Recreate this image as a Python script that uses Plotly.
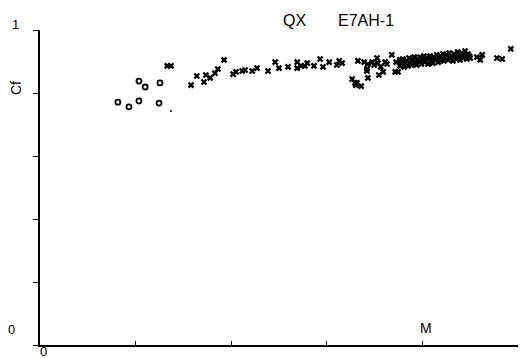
import plotly.graph_objects as go

# Skin-friction coefficient Cf against Mach number M, run E7AH-1
# Low-speed points plotted as circles
m_circle = [0.163, 0.186, 0.207, 0.249, 0.207, 0.220, 0.251]
cf_circle = [0.771, 0.756, 0.775, 0.768, 0.838, 0.819, 0.832]

# Isolated small dot
m_dot = [0.274]
cf_dot = [0.743]

# Main run plotted as crosses
m_cross = [
    0.266, 0.274, 0.316, 0.328, 0.343, 0.347, 0.356, 0.366, 0.372, 0.385,
    0.404, 0.410, 0.423, 0.429, 0.444, 0.454, 0.477, 0.492, 0.500, 0.519,
    0.538, 0.538, 0.546, 0.554, 0.559, 0.573, 0.586, 0.592, 0.605, 0.621,
    0.626, 0.632, 0.653, 0.659, 0.661, 0.663, 0.672, 0.665, 0.678, 0.686,
    0.684, 0.686, 0.684, 0.695, 0.699, 0.705, 0.707, 0.713, 0.718, 0.709,
    0.722, 0.726, 0.736, 0.745, 0.749, 0.743,
    0.753, 0.753, 0.755, 0.759, 0.762, 0.764, 0.768, 0.770, 0.772, 0.774,
    0.777, 0.780, 0.783, 0.785, 0.788, 0.791, 0.793, 0.795, 0.798, 0.801,
    0.803, 0.805, 0.809, 0.812, 0.814, 0.816, 0.820, 0.822, 0.824, 0.826,
    0.830, 0.833, 0.835, 0.837, 0.840, 0.843, 0.845, 0.847, 0.851, 0.854,
    0.856, 0.858, 0.861, 0.864, 0.866, 0.868, 0.871, 0.874, 0.877, 0.879,
    0.882, 0.885, 0.887, 0.889, 0.893, 0.895, 0.898, 0.900,
    0.914, 0.921, 0.925, 0.956, 0.967, 0.985, 1.006, 1.006, 1.006, 1.006,
]
cf_cross = [
    0.886, 0.886, 0.825, 0.854, 0.835, 0.857, 0.848, 0.863, 0.876, 0.905,
    0.860, 0.867, 0.870, 0.873, 0.870, 0.879, 0.870, 0.898, 0.879, 0.883,
    0.898, 0.879, 0.886, 0.886, 0.895, 0.886, 0.908, 0.883, 0.898, 0.889,
    0.902, 0.895, 0.844, 0.832, 0.825, 0.832, 0.822, 0.902, 0.898, 0.892,
    0.870, 0.848, 0.876, 0.898, 0.889, 0.911, 0.895, 0.883, 0.867, 0.857,
    0.898, 0.892, 0.921, 0.898, 0.867, 0.867,
    0.905, 0.886, 0.895, 0.908, 0.883, 0.892, 0.902, 0.886, 0.911, 0.895,
    0.889, 0.905, 0.914, 0.895, 0.889, 0.908, 0.902, 0.914, 0.892, 0.905,
    0.917, 0.898, 0.908, 0.892, 0.911, 0.917, 0.902, 0.895, 0.914, 0.908,
    0.921, 0.898, 0.911, 0.917, 0.905, 0.924, 0.902, 0.914, 0.921, 0.905,
    0.927, 0.911, 0.917, 0.902, 0.924, 0.914, 0.908, 0.930, 0.917, 0.905,
    0.927, 0.911, 0.921, 0.933, 0.908, 0.924, 0.917, 0.911,
    0.914, 0.905, 0.921, 0.911, 0.908, 0.940, 0.952, 0.921, 0.908, 0.898,
]

# Axis ticks
x_ticks = [0, 0.2, 0.4, 0.6, 0.8, 1.0]
y_ticks = [0, 0.2, 0.4, 0.6, 0.8, 1.0]

FONT = "Liberation Sans"

fig = go.Figure()
fig.add_trace(go.Scatter(
    x=m_circle, y=cf_circle, mode="markers", cliponaxis=False,
    marker=dict(symbol="circle-open", size=5, color="black",
                line=dict(color="black", width=1.8)),
))
fig.add_trace(go.Scatter(
    x=m_dot, y=cf_dot, mode="markers", cliponaxis=False,
    marker=dict(symbol="circle", size=2, color="black"),
))
fig.add_trace(go.Scatter(
    x=m_cross, y=cf_cross, mode="markers", cliponaxis=False,
    marker=dict(symbol="x-thin", size=5, color="black",
                line=dict(color="black", width=2.3)),
))

fig.update_layout(
    width=522, height=358,
    margin=dict(l=40, r=4, t=30, b=13),
    paper_bgcolor="white", plot_bgcolor="white",
    showlegend=False,
    font=dict(family=FONT, color="black"),
    xaxis=dict(range=[0, 1.0], tickvals=x_ticks, showticklabels=False,
               ticks="inside", ticklen=4, tickwidth=1.3, tickcolor="black",
               showline=True, linecolor="black", linewidth=1.5,
               showgrid=False, zeroline=False),
    yaxis=dict(range=[0, 1.0], tickvals=y_ticks, showticklabels=False,
               ticks="outside", ticklen=5, tickwidth=1.3, tickcolor="black",
               showline=True, linecolor="black", linewidth=1.5,
               showgrid=False, zeroline=False),
)

def label(text, x, y, size, angle=0):
    fig.add_annotation(text=text, x=x, y=y, xref="paper", yref="paper",
                       xanchor="center", yanchor="middle", showarrow=False,
                       textangle=angle, font=dict(family=FONT, size=size, color="black"))

label("QX", 0.533, 1.029, 16)
label("E7AH-1", 0.682, 1.029, 16)
label("M", 0.808, 0.054, 14)
label("Cf", -0.050, 0.816, 14, angle=-90)
label("1", -0.051, 1.019, 13)
label("0", -0.059, 0.048, 13)
label("0", 0.008, -0.022, 13)

fig.write_html("out.html")
